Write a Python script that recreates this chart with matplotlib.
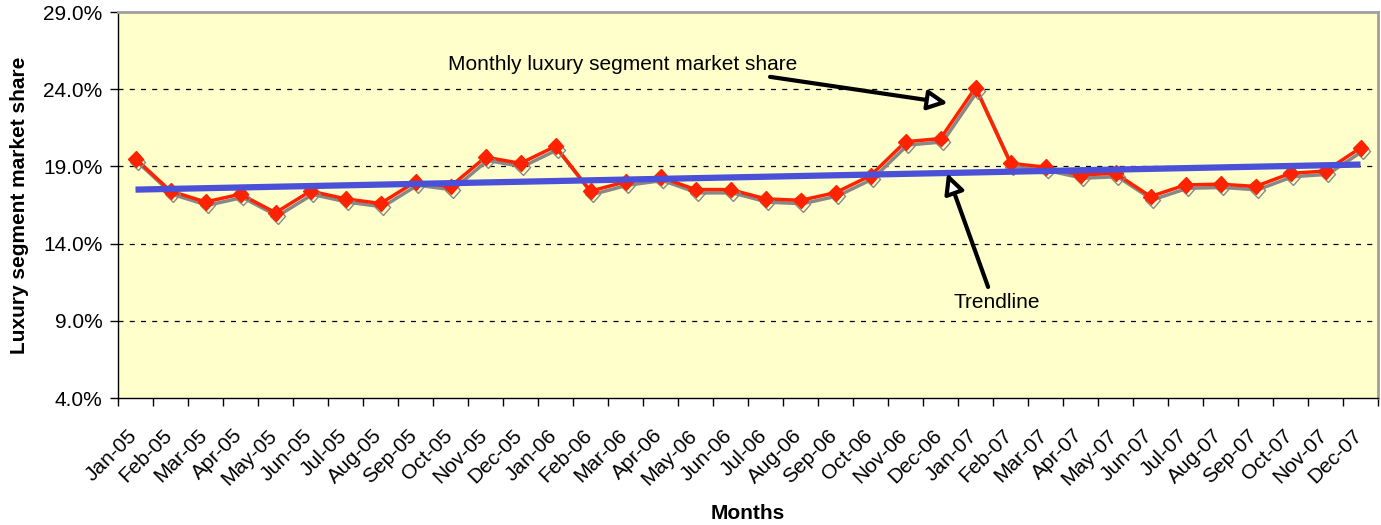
import numpy as np
import matplotlib
matplotlib.use('Agg')
import matplotlib.pyplot as plt
import matplotlib.patheffects as pe
from matplotlib.ticker import FuncFormatter, FixedLocator
from matplotlib.transforms import ScaledTranslation

plt.rcParams['font.family'] = ['Liberation Sans', 'DejaVu Sans']

months = ['Jan-05', 'Feb-05', 'Mar-05', 'Apr-05', 'May-05', 'Jun-05', 'Jul-05', 'Aug-05',
          'Sep-05', 'Oct-05', 'Nov-05', 'Dec-05', 'Jan-06', 'Feb-06', 'Mar-06', 'Apr-06',
          'May-06', 'Jun-06', 'Jul-06', 'Aug-06', 'Sep-06', 'Oct-06', 'Nov-06', 'Dec-06',
          'Jan-07', 'Feb-07', 'Mar-07', 'Apr-07', 'May-07', 'Jun-07', 'Jul-07', 'Aug-07',
          'Sep-07', 'Oct-07', 'Nov-07', 'Dec-07']
# luxury segment share, percent
share = [19.5, 17.4, 16.7, 17.2, 16.0, 17.4, 16.9, 16.6, 18.0, 17.7, 19.6, 19.2,
         20.3, 17.4, 18.0, 18.3, 17.5, 17.5, 16.9, 16.8, 17.3, 18.4, 20.6, 20.8,
         24.1, 19.2, 18.95, 18.45, 18.55, 17.05, 17.8, 17.85, 17.7, 18.55, 18.7, 20.2]
y_ticks = [4, 9, 14, 19, 24, 29]

x = np.arange(len(months))
y = np.array(share)
slope, icpt = np.polyfit(x, y, 1)
trend = slope * x + icpt

fig = plt.figure(figsize=(13.81, 5.25), dpi=100)
ax = fig.add_axes([118/1381, 1 - 398/525, 1260/1381, 386/525])
ax.set_facecolor('#FFFFCC')

ax.plot(x, y, color='#FF2200', lw=2.5, marker='D', ms=8, mec='#FF2200', zorder=3,
        path_effects=[pe.SimpleLineShadow(offset=(1.5, -2.4), shadow_color='#888888', alpha=1),
                      pe.Normal()])
ax.plot([x[0], x[-1]], [trend[0], trend[-1]], color='#4B50D8', lw=4.5, solid_capstyle='butt', zorder=4)

ax.set_xlim(-0.5, len(months) - 0.5)
ax.set_ylim(4, 29)
ax.yaxis.set_major_locator(FixedLocator(y_ticks))
ax.yaxis.set_major_formatter(FuncFormatter(lambda v, p: '%.1f%%' % v))
for g in y_ticks[1:-1]:
    ax.axhline(g, color='black', lw=0.9, ls=(0, (4, 5)), zorder=1)

ax.set_xticks(np.arange(len(months) + 1) - 0.5)
ax.set_xticklabels([])
ax.set_xticks(x, minor=True)
ax.set_xticklabels(months, minor=True, rotation=45, ha='right', va='top',
                   rotation_mode='anchor', fontsize=15)
ax.tick_params(axis='x', which='minor', length=0, pad=20)
ax.tick_params(axis='x', which='major', length=6, width=1, direction='out')
ax.tick_params(axis='y', length=6, width=1, direction='out', labelsize=15, pad=5)
shift = ScaledTranslation(-8/100, 0, fig.dpi_scale_trans)
for lab in ax.get_xticklabels(minor=True):
    lab.set_transform(lab.get_transform() + shift)

for s in ['top', 'right']:
    ax.spines[s].set_color('#A0A0A0')
    ax.spines[s].set_linewidth(2)
for s in ['left', 'bottom']:
    ax.spines[s].set_color('black')
    ax.spines[s].set_linewidth(1)

ax.set_ylabel('Luxury segment market share', fontsize=15, fontweight='bold', labelpad=10)
ax.set_xlabel('Months', fontsize=15, fontweight='bold', labelpad=11)

arrow = dict(arrowstyle='-|>,head_length=1.2,head_width=0.6', lw=3, ec='black', fc='white',
             shrinkA=0, shrinkB=0)
ax.annotate('', xy=(23.21, 23.1), xytext=(18.13, 24.8), arrowprops=arrow, zorder=5)
ax.text(13.93, 25.6, 'Monthly luxury segment market share', fontsize=15, ha='center', va='center')
ax.annotate('', xy=(23.19, 18.57), xytext=(24.36, 11.19), arrowprops=arrow, zorder=5)
ax.text(24.6, 10.2, 'Trendline', fontsize=15, ha='center', va='center')

fig.savefig('out.png', dpi=100)
